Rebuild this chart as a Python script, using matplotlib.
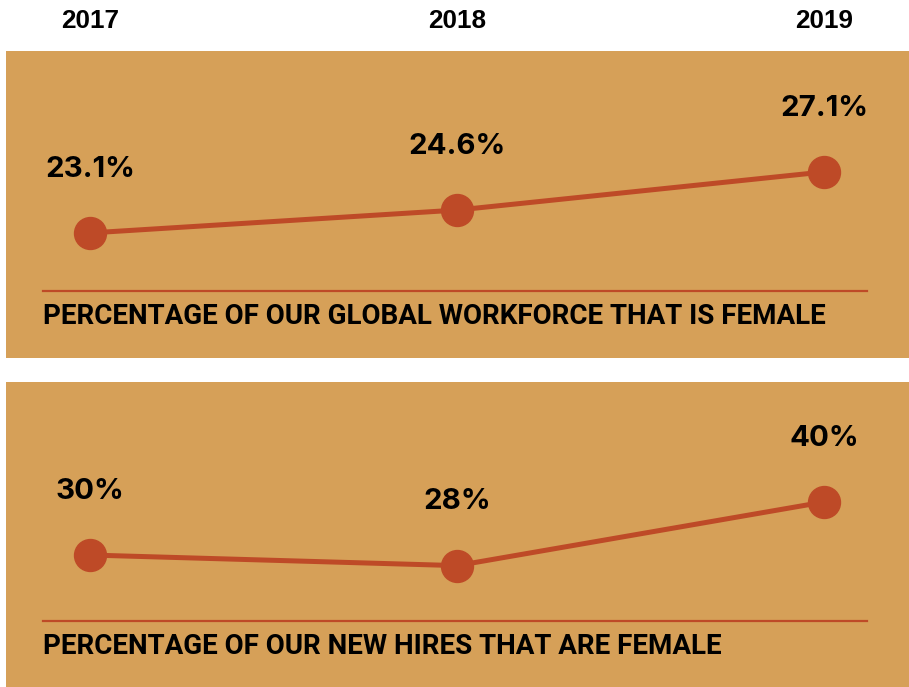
import matplotlib
matplotlib.use("Agg")
import matplotlib.pyplot as plt
from matplotlib.transforms import blended_transform_factory

years = ["2017", "2018", "2019"]
workforce_female = [23.1, 24.6, 27.1]
workforce_labels = ["23.1%", "24.6%", "27.1%"]
hires_female = [30, 28, 40]
hires_labels = ["30%", "28%", "40%"]
caption1 = "PERCENTAGE OF OUR GLOBAL WORKFORCE THAT IS FEMALE"
caption2 = "PERCENTAGE OF OUR NEW HIRES THAT ARE FEMALE"

BG = "#D6A058"
RED = "#BE4A27"
W, H = 909, 687

fig = plt.figure(figsize=(W / 100, H / 100), dpi=100)
fig.patch.set_facecolor("white")

def px_axes(left, top, right, bottom):
    return fig.add_axes([left / W, 1 - bottom / H, (right - left) / W, (bottom - top) / H])

xs = list(range(len(years)))
xlim = (-0.2289, 2.2316)

ax1 = px_axes(6, 51, 909, 358)
ax2 = px_axes(6, 382, 909, 687)
ylims = [(14.90, 35.03), (5.1, 62.64)]

for ax, vals, labs, yl in [(ax1, workforce_female, workforce_labels, ylims[0]),
                           (ax2, hires_female, hires_labels, ylims[1])]:
    ax.set_facecolor(BG)
    for s in ax.spines.values():
        s.set_visible(False)
    ax.set_xticks([]); ax.set_yticks([])
    ax.set_xlim(*xlim); ax.set_ylim(*yl)
    ax.plot(xs, vals, color=RED, lw=3.6, marker="o", markersize=23,
            solid_capstyle="round", zorder=3)
    for x, v, l in zip(xs, vals, labs):
        ax.annotate(l, (x, v), xytext=(0, 46), textcoords="offset points",
                    ha="center", va="center", fontsize=21.2, fontweight="bold",
                    family="Inter", color="black")

# separator lines and captions
for ypx, cap in [(291, caption1), (621, caption2)]:
    fig.add_artist(plt.Line2D([43 / W, 867 / W], [1 - ypx / H, 1 - ypx / H],
                              color=RED, lw=1.6, transform=fig.transFigure))
    fig.text(43 / W, 1 - (ypx + 26) / H, cap, ha="left", va="center",
             fontsize=20, fontweight="bold", family="Roboto", color="black")

# year labels
trans = blended_transform_factory(ax1.transData, fig.transFigure)
for x, y in zip(xs, years):
    fig.text(x, 1 - 21 / H, y, transform=trans, ha="center", va="center",
             fontsize=18.8, fontweight="bold", family="Liberation Sans", color="black")

fig.savefig("out.png", dpi=100, facecolor="white")
